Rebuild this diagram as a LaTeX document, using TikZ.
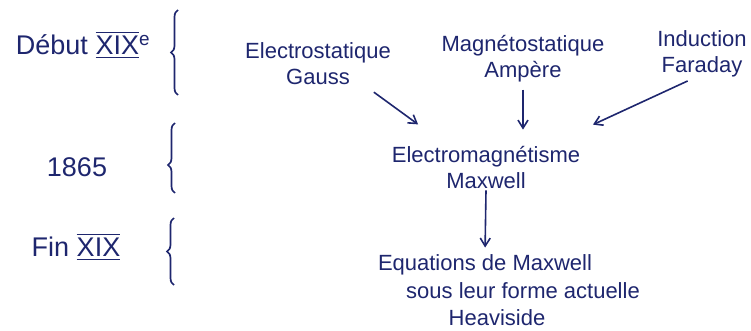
\documentclass[tikz,border=0pt]{standalone}
\usepackage{amsmath}
\usepackage{fontspec}
\setmainfont{Liberation Sans}
\usetikzlibrary{decorations.pathreplacing,arrows.meta}
\definecolor{encre}{RGB}{30,38,110}
\newcommand{\siecle}[1]{$\overline{\underline{\mathrm{#1}}}$}
\tikzset{
	txt/.style={text=encre, font=\fontsize{22}{26}\selectfont, align=center, inner sep=1pt},
	date/.style={txt, font=\fontsize{27}{30}\selectfont},
	fleche/.style={encre, line width=1.6pt, ->, >={Straight Barb[length=8pt,width=10pt]}},
	accolade/.style={encre, line width=1.7pt, decorate, decoration={brace, amplitude=7pt}}
}

\begin{document}
\begin{tikzpicture}[x=1pt,y=-1pt]
		\useasboundingbox (0,0) rectangle (751,331);
		
		\node[date] (debut) at (83,45) {Début \siecle{XIX}$^{\mathrm{e}}$};
		\node[date] (annee) at (77,167) {1865};
		\node[date] (fin) at (76,247) {Fin \siecle{XIX}};
		
		\draw[accolade] (178,95) -- (178,10);
		\draw[accolade, decoration={aspect=0.4}] (175,193) -- (175,123);
		\draw[accolade] (174,285) -- (174,218);
		
		\node[txt] (elec) at (318,64) {Electrostatique\\Gauss};
		\node[txt] (mag) at (523,59) {Magnétostatique\\Ampère};
		\node[txt] (ind) at (702,54) {Induction\\Faraday};
		\node[txt] (em) at (486,168) {Electromagnétisme\\Maxwell};
		\node[txt] (eqa) at (485,265) {Equations de Maxwell};
		\node[txt] (eqb) at (523,291) {sous leur forme actuelle};
		\node[txt] (eqc) at (497,318) {Heaviside};
		
		\draw[fleche, shorten <=10pt, shorten >=36pt] (elec.-25) -- (em.150);
		\draw[fleche, shorten <=6pt, shorten >=16pt] (mag.south) -- (mag.south |- em.north);
		\draw[fleche, shorten <=6pt, shorten >=50pt] (ind.-110) -- (em.20);
		\draw[fleche, shorten >=6pt] (em.south) -- (eqa.north);
	\end{tikzpicture}
\end{document}
